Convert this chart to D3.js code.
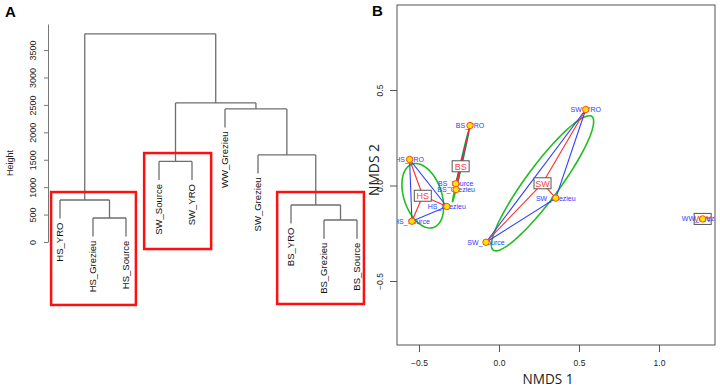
<!DOCTYPE html>
<html>
<head>
<meta charset="utf-8">
<script src="https://cdn.jsdelivr.net/npm/d3@7"></script>
<style>
  body { margin: 0; background: #fff; }
  svg { display: block; font-family: "Liberation Sans", Arial, sans-serif; }
</style>
</head>
<body>
<svg width="720" height="387"></svg>
<script>
const svg = d3.select('svg');

// ---- Panel A data: hclust-style dendrogram ----
const leafLabels = ['HS_YRO', 'HS_Grezieu', 'HS_Source', 'SW_Source', 'SW_YRO',
                    'WW_Grezieu', 'SW_Grezieu', 'BS_YRO', 'BS_Grezieu', 'BS_Source'];
// negative = leaf (1-based), positive = earlier merge step
const mergePairs = [[-9, -10], [-2, -3], [-8, 1], [-1, 2], [-4, -5], [-7, 3], [-6, 6], [5, 7], [4, 8]];
const mergeHeights = [401, 438, 675, 766, 1469, 1588, 2427, 2536, 3796];
const heightTicks = [0, 500, 1000, 1500, 2000, 2500, 3000, 3500];
// highlighted clusters: leaf-index span and height span
const clusterSpans = [[-0.27, 2.3], [2.55, 4.58], [6.58, 9.21]];
const clusterHeights = [[911, -1148], [1622, -128], [911, -1130]];

// ---- Panel B data: NMDS site scores ----
const siteNames = ['HS_YRO', 'HS_Source', 'HS_Grezieu', 'BS_YRO', 'BS_Source', 'BS_Grezieu',
                   'SW_YRO', 'SW_Grezieu', 'SW_Source', 'WW_Grezieu'];
const siteGroup = ['HS', 'HS', 'HS', 'BS', 'BS', 'BS', 'SW', 'SW', 'SW', 'WW'];
const nmds1 = [-0.559, -0.544, -0.326, -0.181, -0.270, -0.268, 0.542, 0.355, -0.081, 1.273];
const nmds2 = [0.136, -0.187, -0.110, 0.314, 0.009, -0.021, 0.398, -0.066, -0.297, -0.175];
const groupNames = ['HS', 'BS', 'SW', 'WW'];
const xTicks = [-0.5, 0, 0.5, 1.0];
const yTicks = [-0.5, 0, 0.5];

/* ------------------------------------------------------------------
 * Panel A
 * ------------------------------------------------------------------ */
const gA = svg.append('g');
const leafIdx = d3.scaleLinear().domain([0, leafLabels.length - 1]).range([60, 357]);
const hY = d3.scaleLinear().domain([0, 3975]).range([242, 24]);
const hang = 0.1 * (d3.max(mergeHeights) - d3.min(mergeHeights));

function node(ref) {
  if (ref < 0) return { leaf: true, name: leafLabels[-ref - 1], x: leafIdx(-ref - 1) };
  const kids = mergePairs[ref - 1].map(node);
  return { leaf: false, kids, x: d3.mean(kids, k => k.x), h: mergeHeights[ref - 1] };
}
const root = node(mergePairs.length);

const treeColor = '#6e6e6e';
function drawNode(n) {
  if (n.leaf) return;
  const y = hY(n.h);
  gA.append('line')
    .attr('x1', n.kids[0].x).attr('x2', n.kids[1].x)
    .attr('y1', y).attr('y2', y)
    .attr('stroke', treeColor).attr('stroke-width', 1.3);
  n.kids.forEach(k => {
    const yEnd = k.leaf ? hY(n.h - hang) : hY(k.h);
    gA.append('line')
      .attr('x1', k.x).attr('x2', k.x)
      .attr('y1', y).attr('y2', yEnd)
      .attr('stroke', treeColor).attr('stroke-width', 1.3);
    if (k.leaf) {
      gA.append('text')
        .attr('transform', `translate(${k.x},${yEnd + 4}) rotate(-90)`)
        .attr('text-anchor', 'end')
        .attr('dy', '0.35em')
        .attr('font-size', 9.5)
        .attr('fill', '#111')
        .text(k.name);
    }
    drawNode(k);
  });
}
drawNode(root);

// height axis
const axA = gA.append('g')
  .attr('transform', 'translate(48,0)')
  .call(d3.axisLeft(hY).tickValues(heightTicks).tickFormat(d3.format('d')).tickSize(4).tickSizeOuter(0));
axA.select('.domain').attr('stroke', '#777');
axA.selectAll('.tick line').attr('stroke', '#777');
axA.selectAll('.tick text')
  .attr('transform', 'rotate(-90)')
  .attr('x', 0).attr('y', -12).attr('dy', 0)
  .attr('text-anchor', 'middle')
  .attr('font-size', 9).attr('fill', '#222');

gA.append('text')
  .attr('transform', 'translate(13,163) rotate(-90)')
  .attr('text-anchor', 'middle')
  .attr('font-size', 9).attr('fill', '#222')
  .text('Height');

// red cluster boxes
clusterSpans.forEach((s, i) => {
  const x0 = leafIdx(s[0]), x1 = leafIdx(s[1]);
  const y0 = hY(clusterHeights[i][0]), y1 = hY(clusterHeights[i][1]);
  gA.append('rect')
    .attr('x', x0).attr('y', y0)
    .attr('width', x1 - x0).attr('height', y1 - y0)
    .attr('fill', 'none').attr('stroke', '#ff1010').attr('stroke-width', 2.5);
});

svg.append('text').attr('x', 5).attr('y', 17)
  .attr('font-size', 15).attr('font-weight', 'bold').text('A');

/* ------------------------------------------------------------------
 * Panel B
 * ------------------------------------------------------------------ */
const frame = { left: 397, right: 715, top: 5, bottom: 345 };
const x = d3.scaleLinear().domain([-0.5, 1.0]).range([419, 659]);
const y = d3.scaleLinear().domain([-0.5, 0.5]).range([281, 90]);

const gB = svg.append('g');
gB.append('clipPath').attr('id', 'plotclip')
  .append('rect')
  .attr('x', frame.left).attr('y', frame.top)
  .attr('width', frame.right - frame.left).attr('height', frame.bottom - frame.top);

const plot = gB.append('g').attr('clip-path', 'url(#plotclip)');

const sites = siteNames.map((name, i) => ({
  name, group: siteGroup[i], v1: nmds1[i], v2: nmds2[i], px: x(nmds1[i]), py: y(nmds2[i])
}));

const groups = groupNames.map(g => {
  const pts = sites.filter(s => s.group === g);
  const m1 = d3.mean(pts, p => p.v1), m2 = d3.mean(pts, p => p.v2);
  return { key: g, pts, m1, m2, cx: x(m1), cy: y(m2) };
});

// standard-deviation ellipses
const line = d3.line().curve(d3.curveLinearClosed);
groups.filter(g => g.pts.length > 2).forEach(g => {
  const n = g.pts.length;
  const sxx = d3.sum(g.pts, p => (p.v1 - g.m1) ** 2) / (n - 1);
  const syy = d3.sum(g.pts, p => (p.v2 - g.m2) ** 2) / (n - 1);
  const sxy = d3.sum(g.pts, p => (p.v1 - g.m1) * (p.v2 - g.m2)) / (n - 1);
  const a = Math.sqrt(sxx), b = sxy / a, c = Math.sqrt(Math.max(syy - b * b, 0));
  const ring = d3.range(0, 100).map(i => {
    const t = 2 * Math.PI * i / 100;
    return [x(g.m1 + a * Math.cos(t)), y(g.m2 + b * Math.cos(t) + c * Math.sin(t))];
  });
  plot.append('path').attr('d', line(ring))
    .attr('fill', 'none').attr('stroke', '#1fbf1f').attr('stroke-width', 1.6);
});

// convex hulls
groups.filter(g => g.pts.length > 2).forEach(g => {
  const hull = d3.polygonHull(g.pts.map(p => [p.px, p.py]));
  plot.append('path').attr('d', line(hull))
    .attr('fill', 'none').attr('stroke', '#3040ff').attr('stroke-width', 1.1);
});

// spiders
groups.forEach(g => {
  g.pts.forEach(p => {
    plot.append('line')
      .attr('x1', g.cx).attr('y1', g.cy).attr('x2', p.px).attr('y2', p.py)
      .attr('stroke', '#ff2a2a').attr('stroke-width', 1.1);
  });
});

// centroid labels
groups.forEach(g => {
  const gl = plot.append('g').attr('transform', `translate(${g.cx},${g.cy})`);
  gl.append('rect').attr('x', -8.5).attr('y', -5.5).attr('width', 17).attr('height', 11)
    .attr('fill', '#fff').attr('stroke', '#555').attr('stroke-width', 1);
  gl.append('text').attr('text-anchor', 'middle').attr('dy', '0.36em')
    .attr('font-size', 9).attr('fill', '#ff4040').text(g.key);
});

// site labels
plot.selectAll('text.site').data(sites).enter().append('text')
  .attr('class', 'site')
  .attr('x', d => d.px).attr('y', d => d.py)
  .attr('dy', '0.36em')
  .attr('text-anchor', 'middle')
  .attr('font-size', 7)
  .attr('fill', '#2a3cff')
  .text(d => d.name);

// site points
plot.selectAll('circle').data(sites).enter().append('circle')
  .attr('cx', d => d.px).attr('cy', d => d.py).attr('r', 3.2)
  .attr('fill', '#ffe600').attr('stroke', '#ff4a00').attr('stroke-width', 1);

// frame
gB.append('rect')
  .attr('x', frame.left).attr('y', frame.top)
  .attr('width', frame.right - frame.left).attr('height', frame.bottom - frame.top)
  .attr('fill', 'none').attr('stroke', '#555').attr('stroke-width', 1);

// axes
const axX = gB.append('g')
  .attr('transform', `translate(0,${frame.bottom})`)
  .call(d3.axisBottom(x).tickValues(xTicks).tickFormat(d3.format('.1f')).tickSize(7).tickPadding(8));
axX.select('.domain').remove();
axX.selectAll('.tick line').attr('stroke', '#555');
axX.selectAll('.tick text').attr('font-size', 8.5).attr('fill', '#222');

const axY = gB.append('g')
  .attr('transform', `translate(${frame.left},0)`)
  .call(d3.axisLeft(y).tickValues(yTicks).tickFormat(d3.format('.1f')).tickSize(7));
axY.select('.domain').remove();
axY.selectAll('.tick line').attr('stroke', '#555');
axY.selectAll('.tick text')
  .attr('transform', 'rotate(-90)')
  .attr('x', 0).attr('y', -14).attr('dy', 0)
  .attr('text-anchor', 'middle')
  .attr('font-size', 8.5).attr('fill', '#222');

const titleFont = '"Open Sans", "Liberation Sans", sans-serif';
gB.append('text')
  .attr('x', 548).attr('y', 384)
  .attr('text-anchor', 'middle')
  .attr('font-family', titleFont).attr('font-size', 14).attr('fill', '#222')
  .attr('textLength', 51).attr('lengthAdjust', 'spacingAndGlyphs')
  .text('NMDS 1');
gB.append('text')
  .attr('transform', 'translate(379,170) rotate(-90)')
  .attr('text-anchor', 'middle')
  .attr('font-family', titleFont).attr('font-size', 15).attr('fill', '#222')
  .attr('textLength', 52).attr('lengthAdjust', 'spacingAndGlyphs')
  .text('NMDS 2');

svg.append('text').attr('x', 372).attr('y', 16)
  .attr('font-size', 15).attr('font-weight', 'bold').text('B');
</script>
</body>
</html>
